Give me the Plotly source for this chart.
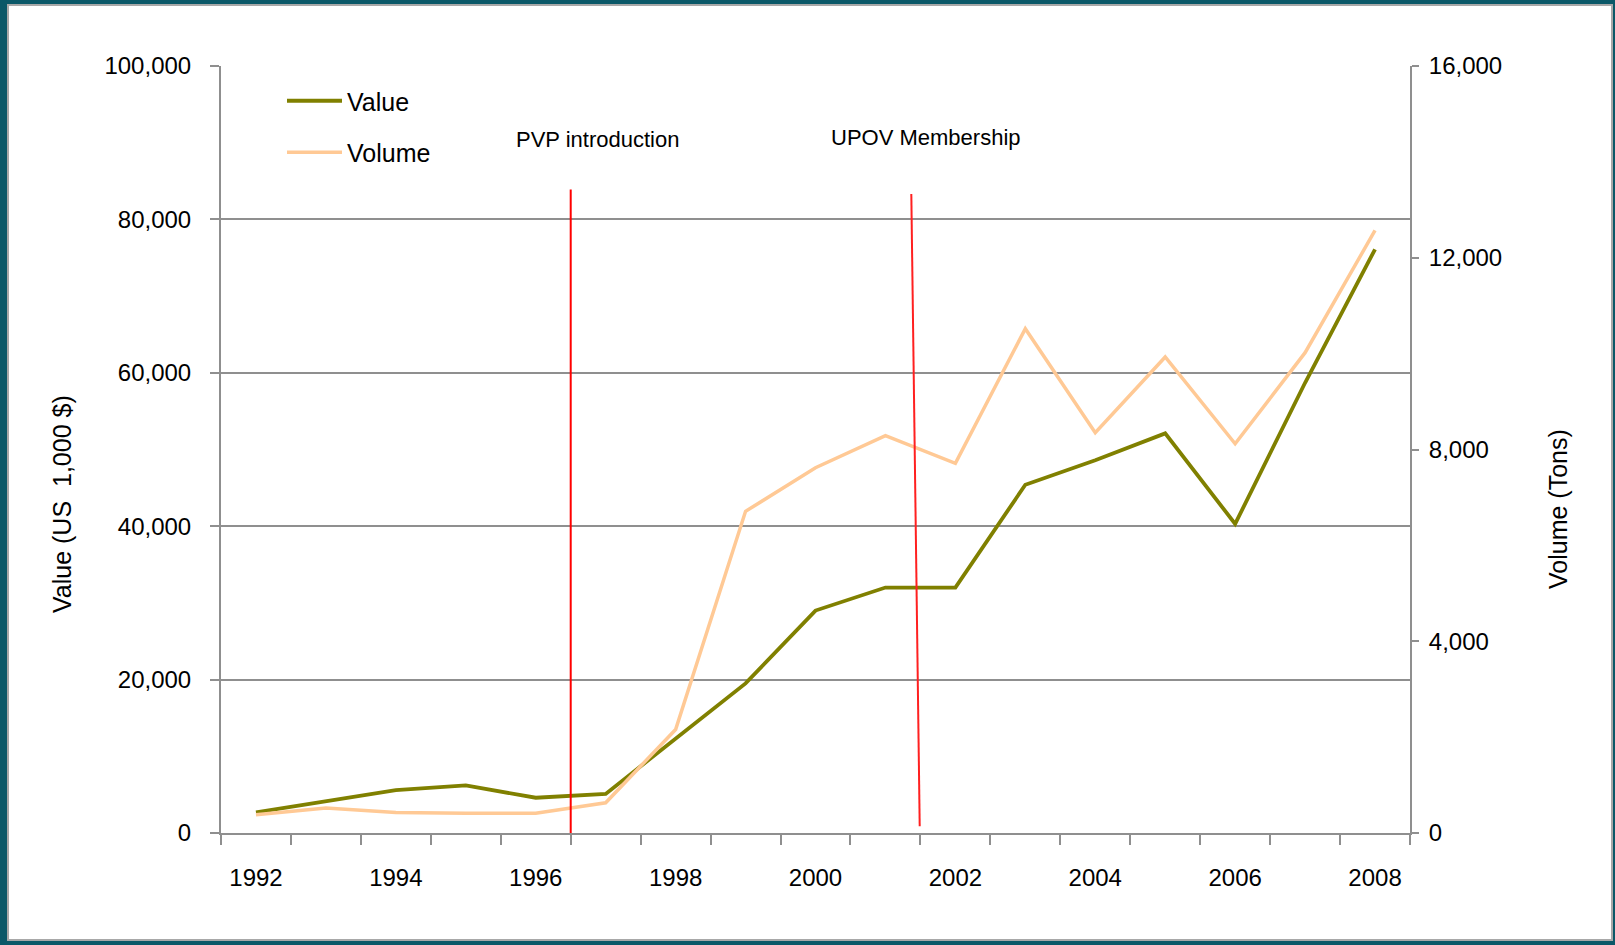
import plotly.graph_objects as go

# ---- data ----
years = [str(y) for y in range(1992, 2009)]
value = [2700, 4200, 5600, 6200, 4600, 5100, 12300, 19500, 29000, 32000, 32000,
         45400, 48600, 52100, 40300, 58700, 76100]
volume = [380, 520, 430, 410, 410, 630, 2160, 6710, 7620, 8290, 7710,
          10520, 8350, 9930, 8120, 10020, 12570]
tick_labels = [y if int(y) % 2 == 0 else "" for y in years]
events = ["PVP introduction", "UPOV Membership"]

# ---- geometry ----
W, H = 1615, 945
L, R, T, B = 221, 205, 66, 112
PW, PH = W - L - R, H - T - B


def px(x):
    return (x - L) / PW


def py(y):
    return (H - B - y) / PH


GRID = "#8f8f8f"
FONT = "Liberation Sans"

fig = go.Figure()
fig.add_trace(go.Scatter(x=years, y=value, name="Value", mode="lines",
                         line=dict(color="#808000", width=3.8),
                         legendgroup="a"))
fig.add_trace(go.Scatter(x=years, y=volume, name="Volume", mode="lines",
                         yaxis="y2", line=dict(color="#FFC995", width=3.5),
                         legendgroup="b"))

shapes = [
    dict(type="rect", xref="paper", yref="paper", layer="below",
         x0=px(8), x1=px(1612), y0=py(940), y1=py(5),
         fillcolor="white", line=dict(color="#a8a8a8", width=2)),
    dict(type="line", xref="x", yref="y", x0=4.5, x1=4.5, y0=0, y1=83900,
         line=dict(color="#ff0000", width=2)),
    dict(type="line", xref="x", yref="y", x0=9.37, x1=9.49, y0=83300, y1=890,
         line=dict(color="#ff2020", width=2)),
]

annotations = [
    dict(text=events[0], xref="paper", yref="paper", x=px(597), y=py(139),
         xanchor="center", yanchor="middle", showarrow=False,
         font=dict(family=FONT, size=22, color="black")),
    dict(text=events[1], xref="paper", yref="paper", x=px(926), y=py(137),
         xanchor="center", yanchor="middle", showarrow=False,
         font=dict(family=FONT, size=22, color="black")),
    dict(text="Value (US  1,000 $)", xref="paper", yref="paper", x=px(62), y=py(504),
         xanchor="center", yanchor="middle", textangle=-90, showarrow=False,
         font=dict(family=FONT, size=25, color="black")),
    dict(text="Volume (Tons)", xref="paper", yref="paper", x=px(1558), y=py(509),
         xanchor="center", yanchor="middle", textangle=-90, showarrow=False,
         font=dict(family=FONT, size=25, color="black")),
]

tickfont = dict(family=FONT, size=24, color="black")

fig.update_layout(
    width=W, height=H,
    margin=dict(l=L, r=R, t=T, b=B),
    paper_bgcolor="#0b5868",
    plot_bgcolor="rgba(0,0,0,0)",
    showlegend=True,
    legend=dict(x=px(282), y=py(78), xanchor="left", yanchor="top",
                font=dict(family=FONT, size=25, color="black"),
                bgcolor="rgba(0,0,0,0)", tracegroupgap=16, itemwidth=55),
    xaxis=dict(type="category", tickson="boundaries", tickmode="array",
               tickvals=years, ticktext=tick_labels, range=[-0.5, 16.5],
               ticks="outside", ticklen=10, tickwidth=2, tickcolor=GRID,
               showline=True, linecolor=GRID, linewidth=2, showgrid=False,
               tickfont=tickfont, ticklabelstandoff=22),
    yaxis=dict(range=[0, 100000], dtick=20000, tickformat=",d",
               showgrid=True, gridcolor=GRID, gridwidth=2,
               showline=True, linecolor=GRID, linewidth=2, zeroline=False,
               ticks="outside", ticklen=9, tickwidth=2, tickcolor=GRID,
               tickfont=tickfont, ticklabelstandoff=14),
    yaxis2=dict(range=[0, 16000], dtick=4000, tickformat=",d", overlaying="y",
                side="right", showgrid=False, showline=True, linecolor=GRID,
                linewidth=2, zeroline=False, ticks="outside", ticklen=7,
                tickwidth=2, tickcolor=GRID, tickfont=tickfont,
                ticklabelstandoff=5),
    shapes=shapes,
    annotations=annotations,
)

fig.write_html("out.html", config={"displayModeBar": False},
               post_script="document.body.style.margin='0';document.body.style.overflow='hidden';")
